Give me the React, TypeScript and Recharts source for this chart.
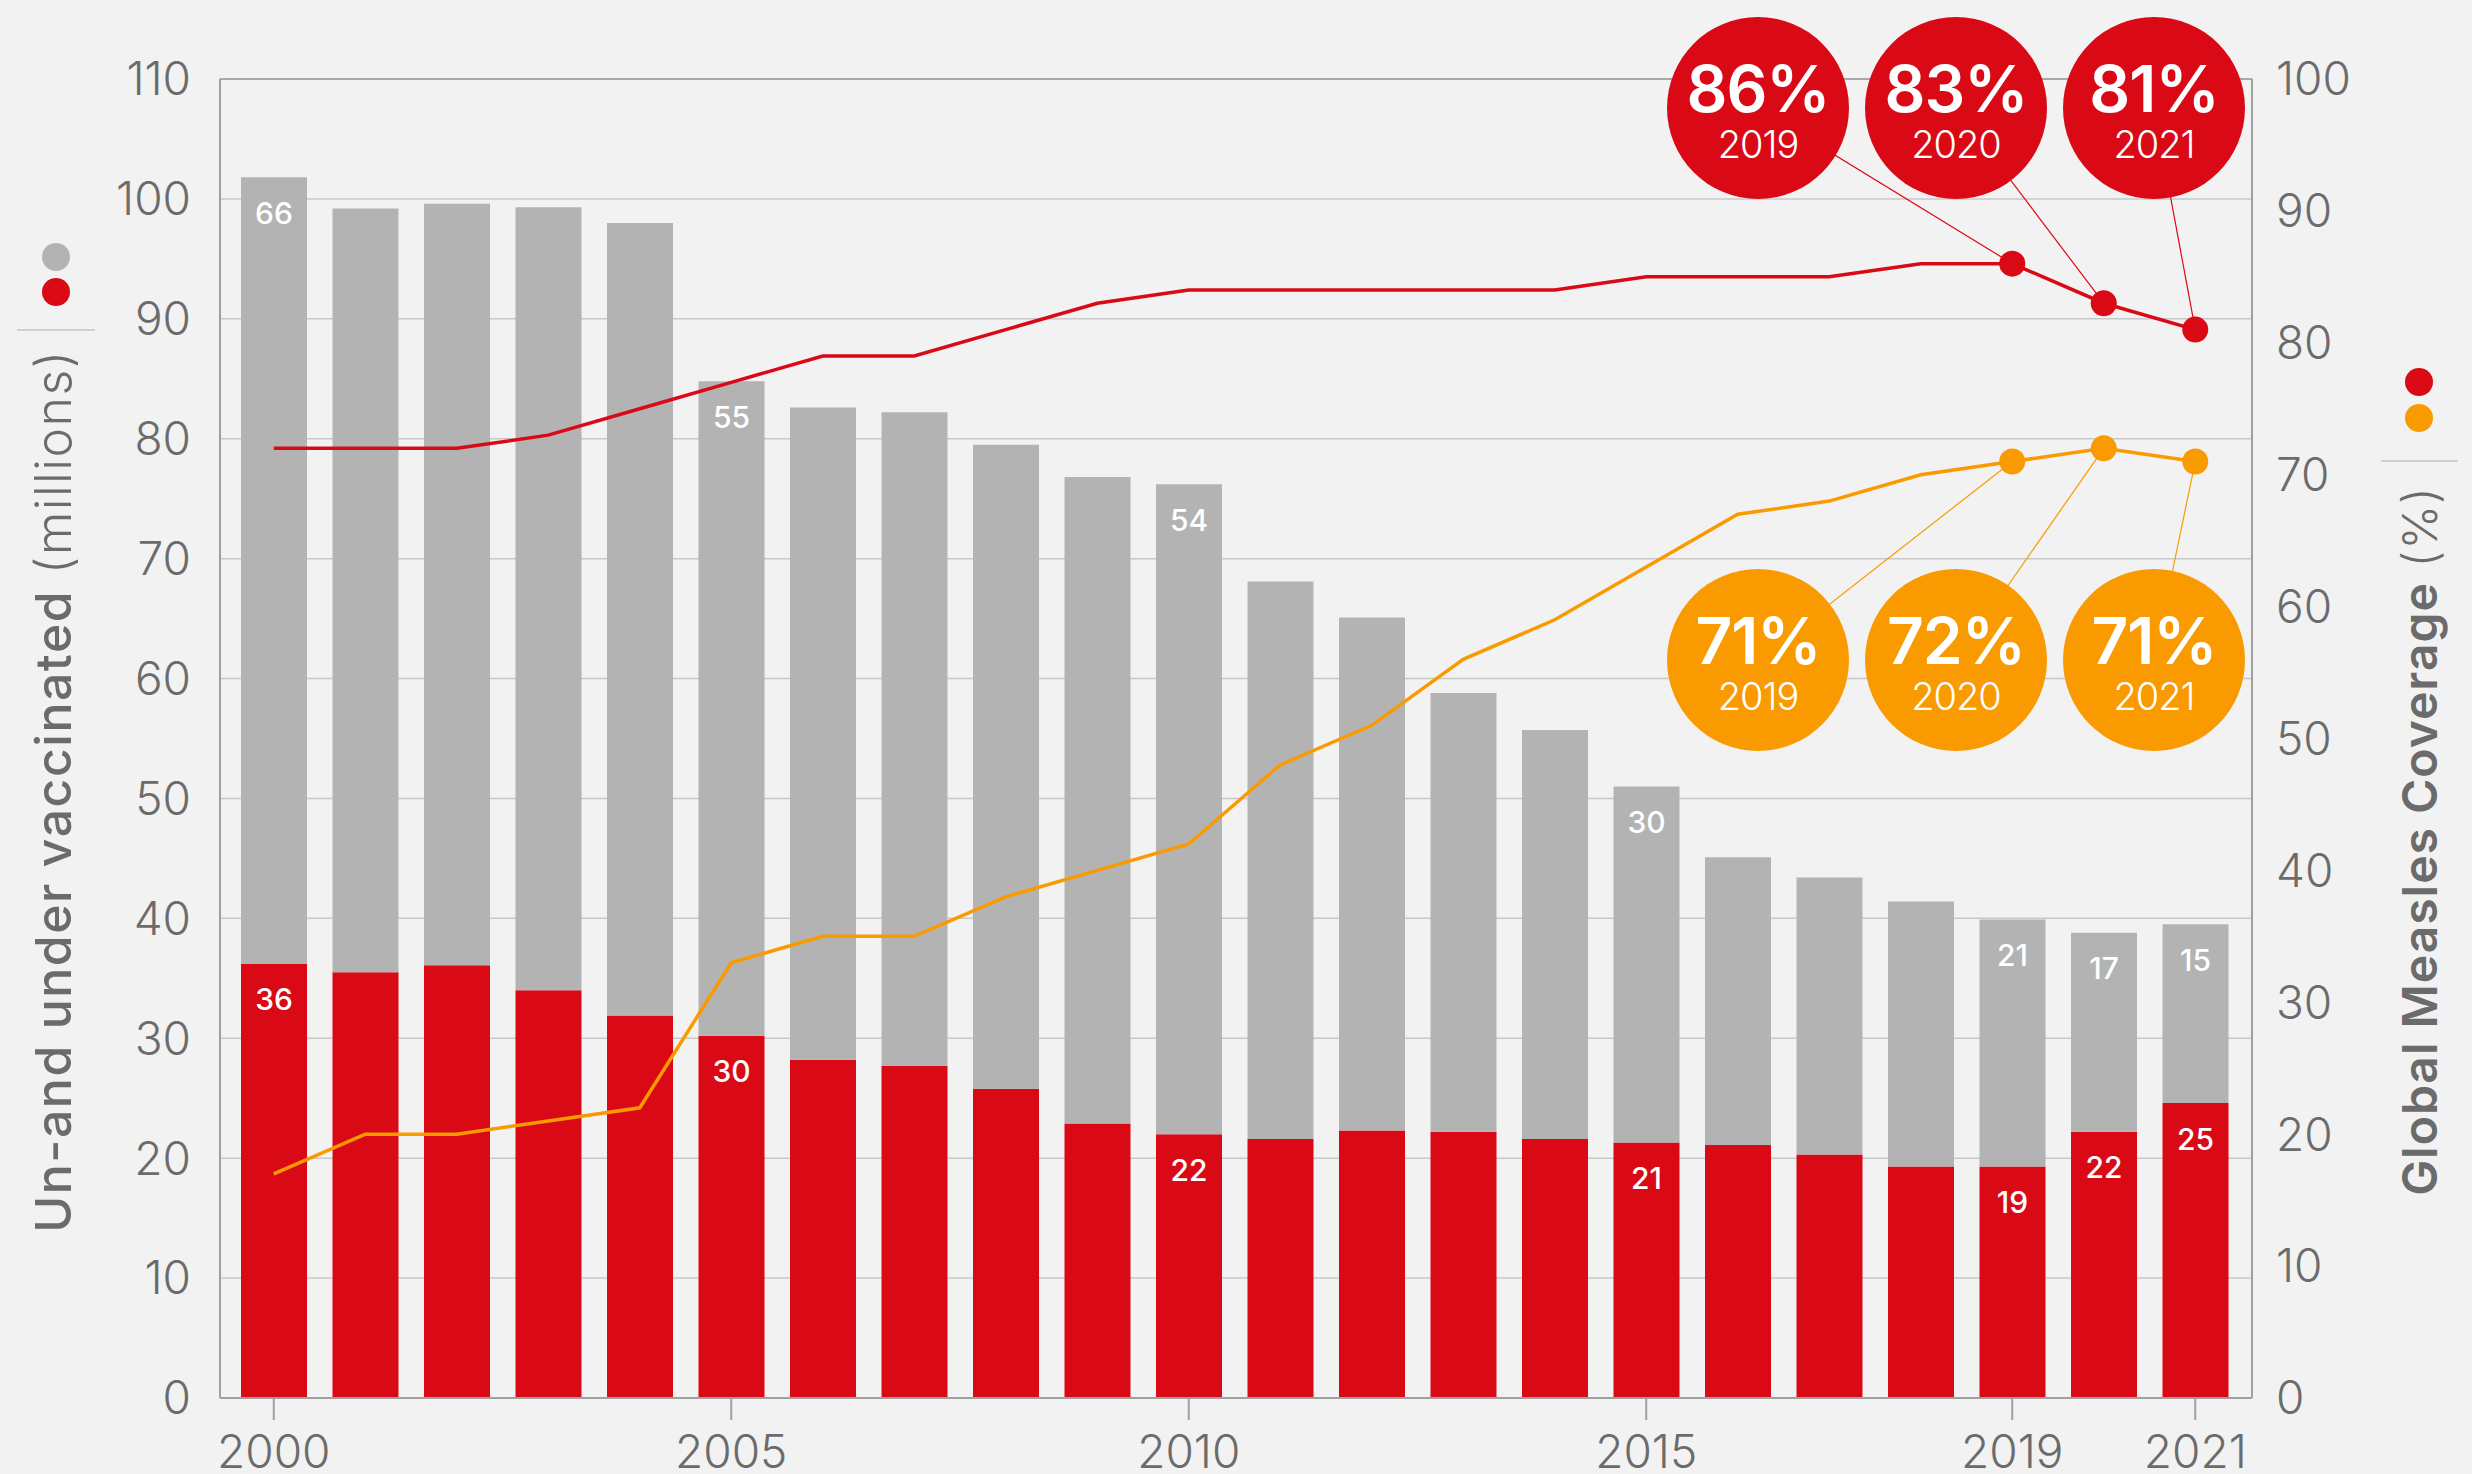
import React from "react";
import {
  ComposedChart,
  Bar,
  Line,
  XAxis,
  YAxis,
  CartesianGrid,
  ReferenceLine,
  LabelList,
} from "recharts";

const years = [
  2000, 2001, 2002, 2003, 2004, 2005, 2006, 2007, 2008, 2009, 2010,
  2011, 2012, 2013, 2014, 2015, 2016, 2017, 2018, 2019, 2020, 2021,
];
// millions, left axis
const unvaccinated = [
  36.2, 35.5, 36.1, 34.0, 31.9, 30.2, 28.2, 27.7, 25.8, 22.9, 22.0,
  21.6, 22.3, 22.2, 21.6, 21.3, 21.1, 20.3, 19.3, 19.3, 22.2, 24.6,
];
const underVaccinated = [
  65.6, 63.7, 63.5, 65.3, 66.1, 54.6, 54.4, 54.5, 53.7, 53.9, 54.2,
  46.5, 42.8, 36.6, 34.1, 29.7, 24.0, 23.1, 22.1, 20.6, 16.6, 14.9,
];
// coverage %, right axis
const mcv1 = [72, 72, 72, 73, 75, 77, 79, 79, 81, 83, 84, 84, 84, 84, 84, 85, 85, 85, 86, 86, 83, 81];
const mcv2 = [17, 20, 20, 21, 22, 33, 35, 35, 38, 40, 42, 48, 51, 56, 59, 63, 67, 68, 70, 71, 72, 71];

const leftTicks = [0, 10, 20, 30, 40, 50, 60, 70, 80, 90, 100, 110];
const rightTicks = [0, 10, 20, 30, 40, 50, 60, 70, 80, 90, 100];
const tickYears = [2000, 2005, 2010, 2015, 2019, 2021];
const barLabelYears = [2000, 2005, 2010, 2015, 2019, 2020, 2021];

const RED = "#d90a16";
const ORANGE = "#f99b00";
const GRAY = "#b3b3b3";
const TEXT = "#6b6b6b";
const FONT = "Inter, 'Noto Sans', sans-serif";

const W = 2472;
const H = 1474;
const TOP = 79;
const BOTTOM = 76;
const SIDE = 220;

const data = years.map((year, i) => ({
  year,
  un: unvaccinated[i],
  under: underVaccinated[i],
  mcv1: mcv1[i],
  mcv2: mcv2[i],
}));

const lastIndex = years.length - 1;
const BUBBLE_R = 91;
const BUBBLE_STEP = 198;
const BUBBLE_X = W - SIDE - 98;

const YearTick = (props: any) => {
  const { x, y, payload } = props;
  if (!tickYears.includes(payload.value)) return <g />;
  return (
    <g>
      <line x1={x} x2={x} y1={y} y2={y + 22} stroke="#a0a0a0" strokeWidth={2} />
      <text x={x} y={y + 37} dy="0.71em" textAnchor="middle" fill={TEXT} fontSize={46} fontWeight={300} fontFamily={FONT}>
        {payload.value}
      </text>
    </g>
  );
};

const barLabel = (props: any) => {
  const { x, y, width, value, index } = props;
  if (!barLabelYears.includes(years[index])) return null;
  return (
    <text x={x + width / 2} y={y + 36} dy="0.35em" textAnchor="middle" fill="#fff" fontSize={30} fontWeight={500} fontFamily={FONT}>
      {Math.round(value)}
    </text>
  );
};

const makeDot = (color: string, key: "mcv1" | "mcv2", bubbleY: number) => (props: any) => {
  const { cx, cy, index, payload } = props;
  const k = lastIndex - index;
  if (k > 2 || cx == null) return <g key={`${key}-${index}`} />;
  const bx = BUBBLE_X - k * BUBBLE_STEP;
  return (
    <g key={`${key}-${index}`}>
      <line x1={cx} y1={cy} x2={bx} y2={bubbleY} stroke={color} strokeWidth={1.2} />
      <circle cx={bx} cy={bubbleY} r={BUBBLE_R} fill={color} />
      <text x={bx} y={bubbleY + 4} textAnchor="middle" fill="#fff" fontSize={64} fontWeight={600} letterSpacing={-1} fontFamily={FONT}>
        {Math.round(payload[key])}%
      </text>
      <text x={bx} y={bubbleY + 50} textAnchor="middle" fill="#fff" fontSize={38} fontWeight={300} letterSpacing={-1} fontFamily={FONT}>
        {payload.year}
      </text>
      <circle cx={cx} cy={cy} r={13} fill={color} />
    </g>
  );
};

export default function App() {
  const tickStyle = { fill: TEXT, fontSize: 46, fontWeight: 300, fontFamily: FONT };
  return (
    <div style={{ position: "absolute", left: 0, top: 0, width: W, height: H, background: "#f2f2f2", fontFamily: FONT }}>
      <ComposedChart width={W} height={H} data={data} margin={{ top: TOP, right: 0, bottom: 0, left: 0 }}>
        <CartesianGrid yAxisId="left" vertical={false} stroke="#c8c8c8" strokeWidth={1.5} />
        <XAxis
          dataKey="year"
          height={BOTTOM}
          interval={0}
          padding={{ left: 8, right: 11 }}
          axisLine={{ stroke: "#a0a0a0", strokeWidth: 2 }}
          tickLine={false}
          tickSize={0}
          tickMargin={0}
          tick={YearTick}
        />
        <YAxis
          yAxisId="left"
          domain={[0, 110]}
          ticks={leftTicks}
          width={SIDE}
          axisLine={{ stroke: "#a0a0a0", strokeWidth: 2 }}
          tickLine={false}
          tickSize={0}
          tickMargin={29}
          tick={tickStyle}
        />
        <YAxis
          yAxisId="right"
          orientation="right"
          domain={[0, 100]}
          ticks={rightTicks}
          width={SIDE}
          axisLine={{ stroke: "#a0a0a0", strokeWidth: 2 }}
          tickLine={false}
          tickSize={0}
          tickMargin={24}
          tick={{ ...tickStyle, textAnchor: "start" }}
        />
        <ReferenceLine yAxisId="left" y={110} stroke="#a8a8a8" strokeWidth={2} />
        <Bar yAxisId="left" dataKey="un" stackId="a" fill={RED} barSize={66} isAnimationActive={false}>
          <LabelList dataKey="un" content={barLabel} />
        </Bar>
        <Bar yAxisId="left" dataKey="under" stackId="a" fill={GRAY} barSize={66} isAnimationActive={false}>
          <LabelList dataKey="under" content={barLabel} />
        </Bar>
        <Line
          yAxisId="right"
          dataKey="mcv1"
          stroke={RED}
          strokeWidth={3.5}
          dot={makeDot(RED, "mcv1", TOP + 29)}
          activeDot={false}
          isAnimationActive={false}
        />
        <Line
          yAxisId="right"
          dataKey="mcv2"
          stroke={ORANGE}
          strokeWidth={3.5}
          dot={makeDot(ORANGE, "mcv2", 660)}
          activeDot={false}
          isAnimationActive={false}
        />
      </ComposedChart>

      {/* axis titles and colour keys */}
      <svg width={W} height={H} style={{ position: "absolute", left: 0, top: 0, pointerEvents: "none" }}>
        <circle cx={56} cy={257} r={14} fill={GRAY} />
        <circle cx={56} cy={292} r={14} fill={RED} />
        <line x1={17} x2={95} y1={330} y2={330} stroke="#d0d0d0" strokeWidth={2} />
        <text transform="translate(71,791) rotate(-90)" textAnchor="middle" fill={TEXT} fontSize={50} letterSpacing={1.5} fontFamily={FONT}>
          <tspan fontWeight={500}>Un-and under vaccinated</tspan>
          <tspan fontWeight={300}> (millions)</tspan>
        </text>

        <circle cx={2419} cy={382} r={14} fill={RED} />
        <circle cx={2419} cy={418} r={14} fill={ORANGE} />
        <line x1={2381} x2={2458} y1={461} y2={461} stroke="#d0d0d0" strokeWidth={2} />
        <text transform="translate(2437,841) rotate(-90)" textAnchor="middle" fill={TEXT} fontSize={48} letterSpacing={1} fontFamily={FONT}>
          <tspan fontWeight={600}>Global Measles Coverage</tspan>
          <tspan fontWeight={300}> (%)</tspan>
        </text>
      </svg>
    </div>
  );
}
